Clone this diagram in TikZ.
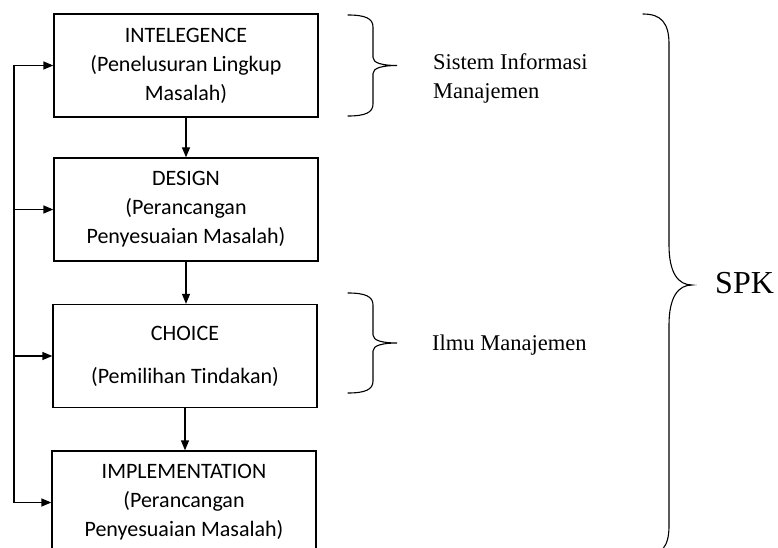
\documentclass[tikz,border=0pt]{standalone}
\usepackage{fontspec}
\setmainfont{Liberation Serif}
\newfontfamily\boxfont{Carlito}
\usetikzlibrary{arrows.meta}

\tikzset{
  box/.style={draw, line width=1.3pt, minimum width=264pt, minimum height=103pt,
    inner sep=0pt, align=center, font=\boxfont\fontsize{22}{29}\selectfont},
  lbl/.style={inner sep=0pt, align=left, font=\fontsize{22.5}{29}\selectfont},
  bracel/.style={line width=1.1pt, line cap=round}
}

% 右侧花括号: x端点, 上y, 下y, 竖线x, 尖端x, 端部弯曲, 尖端弯曲
\newcommand{\sidebrace}[7]{%
  \draw[bracel] (#1,#2)
    .. controls ({#4-0.3*(#4-#1)},#2) and (#4,{#2+0.3*#6}) .. (#4,{#2+#6})
    -- (#4,{(#2+#3)/2-#7})
    .. controls (#4,{(#2+#3)/2-0.3*#7}) and ({#4+0.4*(#5-#4)},{(#2+#3)/2}) .. (#5,{(#2+#3)/2})
    .. controls ({#4+0.4*(#5-#4)},{(#2+#3)/2}) and (#4,{(#2+#3)/2+0.3*#7}) .. (#4,{(#2+#3)/2+#7})
    -- (#4,{#3-#6})
    .. controls (#4,{#3-0.3*#6}) and ({#4-0.3*(#4-#1)},#3) .. (#1,#3);}

\begin{document}
\begin{tikzpicture}[x=1pt, y=-1pt, >={Triangle[length=10pt,width=8pt]}]
        \useasboundingbox (0,0) rectangle (778,548);
        % 四个阶段
        \node[box] (intel)  at (186,65.5) {INTELEGENCE\\(Penelusuran Lingkup\\Masalah)};
        \node[box] (design) at (186,209.5) {DESIGN\\(Perancangan\\Penyesuaian Masalah)};
        \node[box] (choice) at (185,356) {CHOICE\\[14pt](Pemilihan Tindakan)};
        \node[box] (impl)   at (184,502.5) {IMPLEMENTATION\\(Perancangan\\Penyesuaian Masalah)};
        % 阶段之间的箭头
        \draw[line width=1.3pt,->] (intel) -- (design);
        \draw[line width=1.3pt,->] (design) -- (design|-choice.north);
        \draw[line width=1.3pt,->] (choice) -- (choice|-impl.north);
        % 左侧反馈线
        \coordinate (loop) at (14,0);
        \draw[line width=1.3pt] (loop|-intel.west) -- (loop|-impl.west);
        \foreach \n in {intel,design,choice,impl}
          \draw[line width=1.3pt,->] (loop|-\n.west) -- (\n.west);
        % 花括号
        \sidebrace{348}{15}{116}{373}{397}{12}{8}
        \sidebrace{348}{293}{393}{373}{397}{12}{8}
        \sidebrace{643}{14}{556}{669}{692}{30}{40}
        % 说明文字
        \node[lbl, anchor=west] (sim) at (433,78) {Sistem Informasi\\Manajemen};
        \node[lbl, anchor=base west] (ilmu) at (432,350) {Ilmu Manajemen};
        \node[inner sep=0pt, anchor=base west, font=\fontsize{32}{38}\selectfont] (spk) at (715,293) {SPK};
      \end{tikzpicture}
\end{document}
